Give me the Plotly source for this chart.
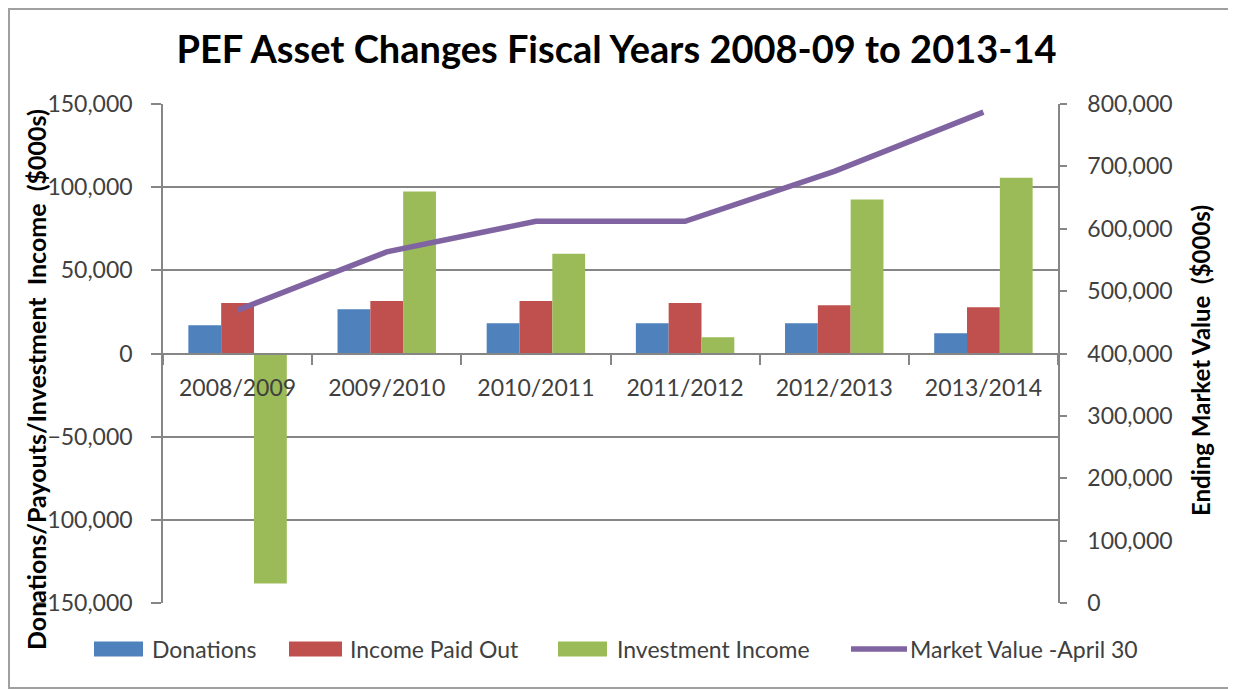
import plotly.graph_objects as go

years = ["2008/2009", "2009/2010", "2010/2011", "2011/2012", "2012/2013", "2013/2014"]
donations = [17000, 26600, 18200, 18200, 18200, 12200]
income_paid_out = [30400, 31600, 31600, 30400, 29000, 27800]
investment_income = [-138300, 97400, 60000, 9800, 92600, 105600]
market_value = [469500, 563000, 612000, 612000, 692000, 787000]

series_names = ["Donations", "Income Paid Out", "Investment Income", "Market Value -April 30"]
series_colors = ["#4F81BD", "#C0504D", "#9BBB59", "#8064A2"]

left_ticks = [-150000, -100000, -50000, 0, 50000, 100000, 150000]
right_ticks = [0, 100000, 200000, 300000, 400000, 500000, 600000, 700000, 800000]

FONT = "Lato"
TICK_COLOR = "#404040"
GRID = "#868686"

# page offset (browser body margin) and plot area in screen pixels
OFF = 8
PL, PR, PT, PB = 163, 1058, 104, 603
W, H = 1236 - OFF, 689 - OFF


def px(sx):
    return (sx - PL) / (PR - PL)


def py(sy):
    return (PB - sy) / (PB - PT)


fig = go.Figure()
for name, vals, col in zip(series_names[:3], [donations, income_paid_out, investment_income], series_colors[:3]):
    fig.add_trace(go.Bar(x=years, y=vals, name=name, marker_color=col, marker_line_width=0))
fig.add_trace(go.Scatter(x=years, y=market_value, name=series_names[3], mode="lines",
                         line=dict(color=series_colors[3], width=5.5), yaxis="y2"))

fig.update_layout(
    width=W, height=H,
    margin=dict(l=PL - OFF, r=W - (PR - OFF), t=PT - OFF, b=H - (PB - OFF)),
    paper_bgcolor="white", plot_bgcolor="white",
    barmode="group", bargap=0.34, bargroupgap=0,
    font=dict(family=FONT, size=23, color=TICK_COLOR),
    showlegend=False,
    title=dict(text="<b>PEF Asset Changes Fiscal Years 2008-09 to 2013-14</b>",
               x=px(616.5), xref="paper", xanchor="center",
               y=1 - (50 - OFF) / H, yanchor="middle",
               font=dict(family=FONT, size=38, color="black")),
    xaxis=dict(anchor="free", position=0.5, showline=True, linecolor=GRID, linewidth=1.5,
               ticks="outside", ticklen=11, tickcolor=GRID, tickwidth=1.5, tickson="boundaries",
               ticklabelstandoff=14,
               showgrid=False, tickfont=dict(size=23, color=TICK_COLOR)),
    yaxis=dict(range=[-150000, 150000], tickvals=left_ticks, tickformat=",",
               showgrid=True, gridcolor=GRID, gridwidth=1.5, zeroline=False,
               showline=True, linecolor=GRID, linewidth=1.5,
               ticks="outside", ticklen=10, tickcolor=GRID, tickwidth=1.5,
               ticklabelstandoff=14,
               tickfont=dict(size=23, color=TICK_COLOR)),
    yaxis2=dict(range=[0, 800000], tickvals=right_ticks, tickformat=",", overlaying="y", side="right",
                showgrid=False, zeroline=False, showline=True, linecolor=GRID, linewidth=1.5,
                ticks="outside", ticklen=7, tickcolor=GRID, tickwidth=1.5,
                ticklabelstandoff=16,
                tickfont=dict(size=23, color=TICK_COLOR)),
)

# axis titles
fig.add_annotation(text="<b>Donations/Payouts/Investment  Income  ($000s)</b>", textangle=-90,
                   xref="paper", yref="paper", x=px(36), y=py(380), xanchor="center", yanchor="middle",
                   showarrow=False, font=dict(family=FONT, size=25, color="black"))
fig.add_annotation(text="<b>Ending Market Value  ($000s)</b>", textangle=-90,
                   xref="paper", yref="paper", x=px(1200), y=py(361), xanchor="center", yanchor="middle",
                   showarrow=False, font=dict(family=FONT, size=24, color="black"))

# custom legend (swatches and labels)
legend_y = 649
swatches = [(94, 143), (289, 342), (558, 607)]
label_x = [150, 348, 615, 908]
for (x0, x1), col in zip(swatches, series_colors[:3]):
    fig.add_shape(type="rect", xref="paper", yref="paper", x0=px(x0), x1=px(x1),
                  y0=py(legend_y + 7.5), y1=py(legend_y - 7.5), fillcolor=col, line=dict(width=0))
fig.add_shape(type="line", xref="paper", yref="paper", x0=px(851), x1=px(907),
              y0=py(legend_y), y1=py(legend_y), line=dict(color=series_colors[3], width=5.5))
for name, lx in zip(series_names, label_x):
    fig.add_annotation(text=name, xref="paper", yref="paper", x=px(lx), y=py(legend_y),
                       xanchor="left", yanchor="middle", showarrow=False,
                       font=dict(family=FONT, size=23, color=TICK_COLOR))

# chart border
fig.add_shape(type="rect", xref="paper", yref="paper",
              x0=px(OFF + 1), x1=px(OFF + W - 1), y0=py(OFF + H - 1), y1=py(OFF + 1),
              line=dict(color="#A0A0A0", width=2), fillcolor="rgba(0,0,0,0)", layer="below")

fig.write_html("out.html")
